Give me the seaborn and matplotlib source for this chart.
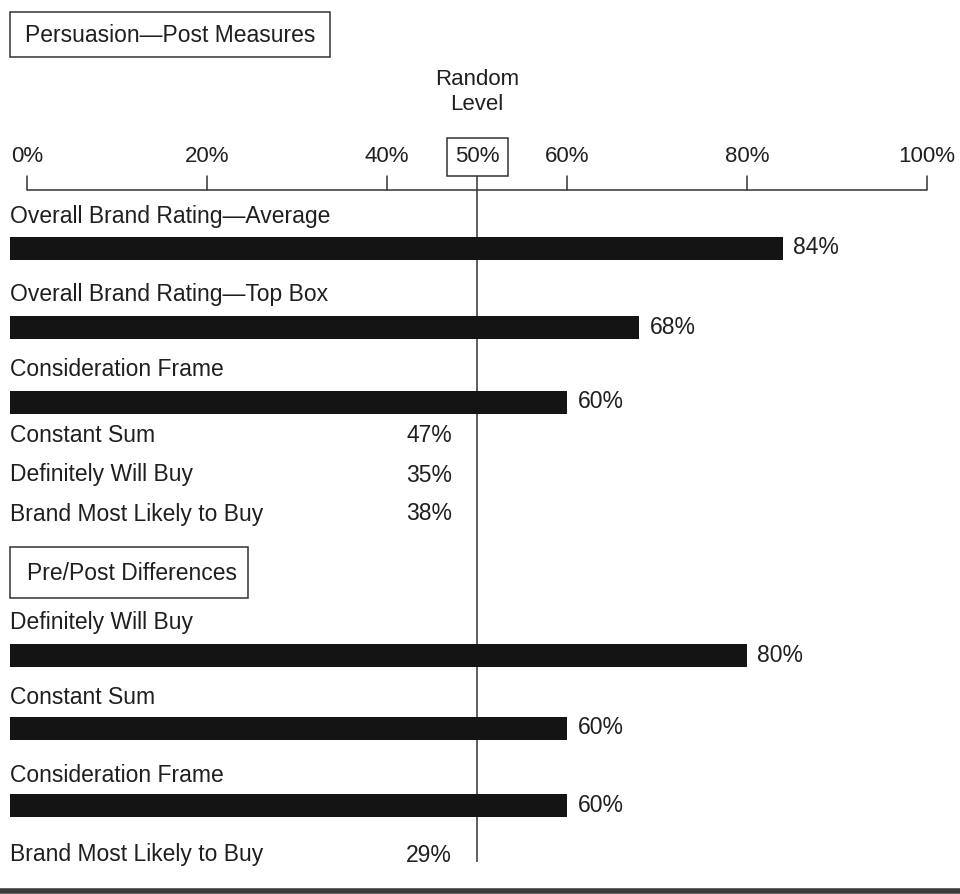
import matplotlib
matplotlib.use("Agg")
import matplotlib.pyplot as plt
import seaborn as sns
import pandas as pd

sns.set_theme(style="white")
plt.rcParams["font.family"] = ["Liberation Sans", "DejaVu Sans"]

# ---- data -------------------------------------------------------------
section_titles = ["Persuasion\u2014Post Measures", "Pre/Post Differences"]

post_labels = [
    "Overall Brand Rating\u2014Average",
    "Overall Brand Rating\u2014Top Box",
    "Consideration Frame",
    "Constant Sum",
    "Definitely Will Buy",
    "Brand Most Likely to Buy",
]
post_values = [84, 68, 60, 47, 35, 38]
post_has_bar = [True, True, True, False, False, False]

diff_labels = [
    "Definitely Will Buy",
    "Constant Sum",
    "Consideration Frame",
    "Brand Most Likely to Buy",
]
diff_values = [80, 60, 60, 29]
diff_has_bar = [True, True, True, False]

tick_values = [0, 20, 40, 60, 80, 100]
random_level = 50

# ---- layout (vertical positions in figure pixels, top = 0) -------------
W, H = 960, 894
post_label_y = [217, 295, 370, 436, 475, 514]
post_bar_y = [248, 327, 402, None, None, None]
diff_label_y = [622, 697, 776, 855]
diff_bar_y = [655, 728, 805, None]
BAR_H = 23

INK = "#1f1f1f"
BAR = "#141414"
FS = 16.5

fig = plt.figure(figsize=(W / 100, H / 100), dpi=100)
ax = fig.add_axes([0, 0, 1, 1])

# x in percent: 0% sits 27 px from the left edge, 9 px per percent
x_left = -27 / 9
x_right = (W - 27) / 9
margin_x = x_left + 10 / 9

rows = []
for lab, v, hb, by in zip(post_labels, post_values, post_has_bar, post_bar_y):
    if hb:
        rows.append({"label": lab, "value": v, "y": by})
for lab, v, hb, by in zip(diff_labels, diff_values, diff_has_bar, diff_bar_y):
    if hb:
        rows.append({"label": lab, "value": v, "y": by})
bars = pd.DataFrame(rows)

sns.barplot(data=bars, x="value", y="y", orient="h", native_scale=True,
            color=BAR, width=BAR_H / 73, saturation=1, ax=ax, linewidth=0,
            errorbar=None)

# bars run in from the left margin of the page
for patch, v in zip(list(ax.patches), bars["value"]):
    patch.set_x(margin_x)
    patch.set_width(v - margin_x)
    patch.set_edgecolor("none")

ax.set_xlim(x_left, x_right)
ax.set_ylim(H, 0)
ax.axis("off")

def boxed(text, x0, y0, x1, y1, pad_left, fs=FS):
    ax.add_patch(plt.Rectangle((x_left + x0 / 9, y0), (x1 - x0) / 9, y1 - y0,
                               fill=False, edgecolor="#333333", lw=1.1))
    ax.text(x_left + (x0 + pad_left) / 9, (y0 + y1) / 2 + 1, text,
            fontsize=fs, color=INK, ha="left", va="center")

# section headers
boxed(section_titles[0], 10, 12, 330, 57, 15)
boxed(section_titles[1], 10, 547, 248, 598, 17)

# percentage axis
axis_y = 190
ax.plot([0, 100], [axis_y, axis_y], color="#333333", lw=1.1, solid_capstyle="butt")
for t in tick_values:
    ax.plot([t, t], [axis_y, axis_y - 14], color="#333333", lw=1.1)
    ax.text(t, 157, f"{t}%", fontsize=FS - 0.5, color=INK, ha="center", va="center")

# random level marker: the rule passes behind the bars
ax.add_patch(plt.Rectangle((random_level - 30 / 9, 138), 61 / 9, 38,
                           fill=False, edgecolor="#333333", lw=1.1))
ax.text(random_level, 157, f"{random_level}%", fontsize=FS - 0.5, color=INK,
        ha="center", va="center")
ax.text(random_level, 92, "Random\nLevel", fontsize=FS - 0.5, color=INK,
        ha="center", va="center", linespacing=1.2)
seg_top, seg_bottom = [176], []
for by, v in sorted(zip(bars["y"], bars["value"])):
    if v > random_level:
        seg_bottom.append(by - BAR_H / 2)
        seg_top.append(by + BAR_H / 2)
seg_bottom.append(862)
ax.vlines([random_level] * len(seg_top), seg_top, seg_bottom,
          color="#333333", lw=1.1)

# row labels and values
def draw_rows(labels, values, has_bar, label_y, bar_y):
    for lab, v, hb, ly, by in zip(labels, values, has_bar, label_y, bar_y):
        ax.text(margin_x, ly, lab, fontsize=FS, color=INK, ha="left", va="center")
        if hb:
            ax.annotate(f"{v}%", xy=(v, by), xytext=(7.5, 0),
                        textcoords="offset points", fontsize=FS, color=INK,
                        ha="left", va="center")
        else:
            ax.text(x_left + 452 / 9, ly, f"{v}%", fontsize=FS, color=INK,
                    ha="right", va="center")

draw_rows(post_labels, post_values, post_has_bar, post_label_y, post_bar_y)
draw_rows(diff_labels, diff_values, diff_has_bar, diff_label_y, diff_bar_y)

# heavy rule along the foot of the page
ax.plot([x_left, x_right], [891, 891], color="#3a3a3a", lw=4, solid_capstyle="butt")

fig.savefig("out.png", dpi=100, facecolor="white")
